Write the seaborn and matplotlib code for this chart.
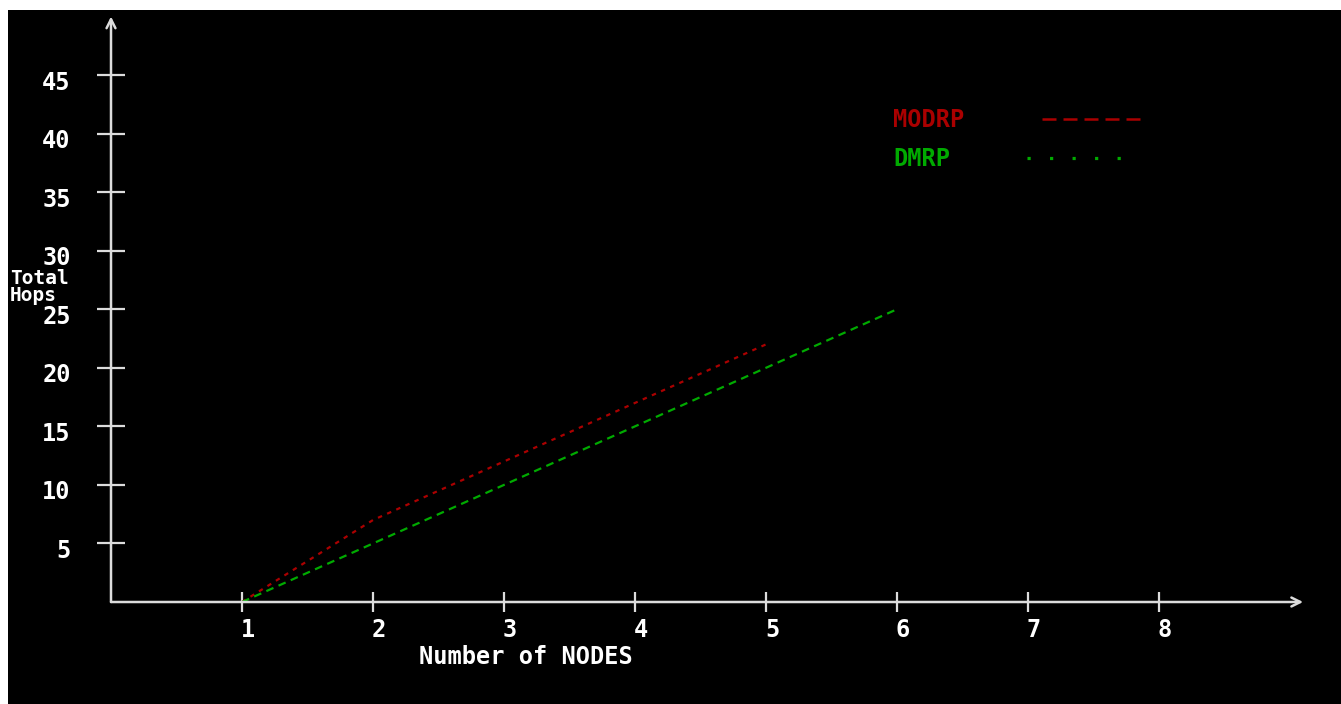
import matplotlib
matplotlib.use("Agg")
import matplotlib.pyplot as plt
import matplotlib.transforms as mtransforms
from matplotlib.lines import Line2D
from matplotlib.patches import Rectangle
import seaborn as sns
import pandas as pd

# ---- data ----
modrp_nodes = [1, 2, 3, 4, 5]
modrp_hops = [0, 7, 12, 17, 22]
dmrp_nodes = [1, 2, 3, 4, 5, 6]
dmrp_hops = [0, 5, 10, 15, 20, 25]
x_ticks = [1, 2, 3, 4, 5, 6, 7, 8]
y_ticks = [5, 10, 15, 20, 25, 30, 35, 40, 45]
series_names = ["MODRP", "DMRP"]

RED = "#aa0000"
GREEN = "#00aa00"
AXC = "#dcdcdc"
FONT = "DejaVu Sans Mono"
FS = 17

sns.set_style("dark", rc={"axes.facecolor": "black", "figure.facecolor": "black",
                          "axes.grid": False})
plt.rcParams["font.family"] = [FONT, "DejaVu Sans"]

df = pd.concat([
    pd.DataFrame({"nodes": modrp_nodes, "hops": modrp_hops, "protocol": series_names[0]}),
    pd.DataFrame({"nodes": dmrp_nodes, "hops": dmrp_hops, "protocol": series_names[1]}),
], ignore_index=True)

W, H = 1341, 704
fig = plt.figure(figsize=(W / 100, H / 100), dpi=100, facecolor="black")
x0px, y0px = 111, 602
pxx, pxy = 131.0, 11.71
xmax, ymax = 9.2, 50.6
ax = fig.add_axes([x0px / W, (H - y0px) / H, xmax * pxx / W, ymax * pxy / H])
ax.set_facecolor("black")

sns.lineplot(data=df, x="nodes", y="hops", hue="protocol", style="protocol",
             palette={"MODRP": RED, "DMRP": GREEN},
             dashes={"MODRP": (2, 2.5), "DMRP": (3.5, 2.5)},
             linewidth=1.6, legend=False, ax=ax, clip_on=False)

ax.set_xlim(0, xmax)
ax.set_ylim(0, ymax)
for s in ax.spines.values():
    s.set_visible(False)

# axes with arrows
ax.annotate("", xy=(9.1, 0), xytext=(0, 0),
            arrowprops=dict(arrowstyle="->", color=AXC, lw=1.8, mutation_scale=16,
                            shrinkA=0, shrinkB=0), annotation_clip=False)
ax.annotate("", xy=(0, 50.0), xytext=(0, 0),
            arrowprops=dict(arrowstyle="->", color=AXC, lw=1.8, mutation_scale=16,
                            shrinkA=0, shrinkB=0), annotation_clip=False)

ax.set_xticks(x_ticks)
ax.set_xticklabels([str(v) for v in x_ticks])
ax.set_yticks(y_ticks)
ax.set_yticklabels([str(v) for v in y_ticks])
ax.tick_params(axis="y", left=True, direction="inout", length=20, width=1.6, color=AXC,
               labelcolor="white", labelsize=FS, pad=19)
ax.tick_params(axis="x", bottom=True, direction="inout", length=15, width=1.6, color=AXC,
               labelcolor="white", labelsize=FS, pad=4)
for lab in ax.get_xticklabels() + ax.get_yticklabels():
    lab.set_fontweight("bold")
    lab.set_family([FONT, "DejaVu Sans"])
for lab in ax.get_xticklabels():
    lab.set_transform(lab.get_transform() + mtransforms.ScaledTranslation(6 / 100, 0, fig.dpi_scale_trans))
for lab in ax.get_yticklabels():
    lab.set_transform(lab.get_transform() + mtransforms.ScaledTranslation(0, -5 / 100, fig.dpi_scale_trans))

ax.set_xlabel("Number of NODES", color="white", fontsize=FS, fontweight="bold")
ax.xaxis.set_label_coords((526 - x0px) / (xmax * pxx), -(657 - y0px) / (ymax * pxy))
ax.xaxis.label.set_verticalalignment("center")

ax.set_ylabel("Total\nHops", color="white", fontsize=14, fontweight="bold",
              rotation=0, ha="left", va="center", linespacing=0.9)
ax.yaxis.set_label_coords((10 - x0px) / (xmax * pxx), (y0px - 287) / (ymax * pxy))

# legend: one box per row so that the labels stay left-aligned as in the reference
prop = {"family": FONT, "weight": "bold", "size": FS}
h_red = Line2D([], [], color=RED, lw=1.8, linestyle=(0, (5.6, 2.8)))
h_green = Line2D([], [], color=GREEN, lw=2.3, linestyle=(0, (1, 6.05)))
leg1 = ax.legend([h_red], [series_names[0]], loc="center left",
                 bbox_to_anchor=(893 / W, 1 - 120 / H), bbox_transform=fig.transFigure,
                 frameon=False, markerfirst=False, handlelength=4.2, handletextpad=3.3,
                 borderpad=0, borderaxespad=0, prop=prop)
leg1.get_texts()[0].set_color(RED)
ax.add_artist(leg1)
leg2 = ax.legend([h_green], [series_names[1]], loc="center left",
                 bbox_to_anchor=(893 / W, 1 - 159 / H), bbox_transform=fig.transFigure,
                 frameon=False, markerfirst=False, handlelength=4.0, handletextpad=3.25,
                 borderpad=0, borderaxespad=0, prop=prop)
leg2.get_texts()[0].set_color(GREEN)

# white frame of the screenshot
fig.patches.append(Rectangle((0, 0), 8 / W, 1, transform=fig.transFigure,
                             facecolor="white", edgecolor="none", zorder=10))
fig.patches.append(Rectangle((0, 1 - 10 / H), 1, 10 / H, transform=fig.transFigure,
                             facecolor="white", edgecolor="none", zorder=10))

fig.savefig("out.png", dpi=100, facecolor="black")
